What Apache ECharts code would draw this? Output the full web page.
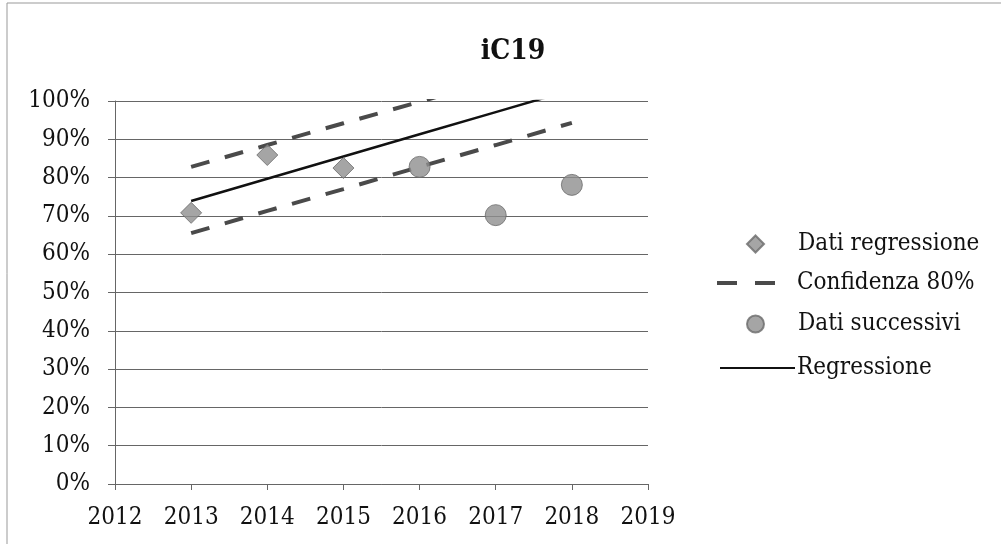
<!DOCTYPE html>
<html>
<head>
<meta charset="utf-8">
<script src="https://cdn.jsdelivr.net/npm/echarts@6/dist/echarts.min.js"></script>
<style>html,body{margin:0;padding:0;background:#fff}#c{width:1001px;height:544px}</style>
</head>
<body>
<div id="c"></div>
<script>
var titleText = 'iC19';
var yearsReg = [2013, 2014, 2015];
var datiRegressione = [70.8, 85.9, 82.5];
var yearsNext = [2016, 2017, 2018];
var datiSuccessivi = [82.8, 70.2, 78.1];
var yearsLine = [2013, 2014, 2015, 2016, 2017, 2018];
var regressione = [73.9, 79.7, 85.5, 91.3, 97.1, 102.9];
var confUpper = [82.8, 88.5, 94.2, 99.8, 105.5, 111.2];
var confLower = [65.5, 71.3, 77.0, 82.8, 88.5, 94.3];
var seriesNames = ['Dati regressione', 'Confidenza 80%', 'Dati successivi', 'Regressione'];

function pairs(xs, ys) { return xs.map(function (x, i) { return [x, ys[i]]; }); }

var FONT = "'DejaVu Serif Condensed', 'DejaVu Serif', serif";
var MARK = '#8f8f8f', MARKB = '#6a6a6a', DASH = '#4a4a4a';
function legendText(padLeft) {
  return { fontFamily: FONT, fontSize: 24, color: '#111', padding: [0, 0, 0, padLeft] };
}
var chart = echarts.init(document.getElementById('c'));
chart.setOption({
  animation: false,
  backgroundColor: '#fff',
  title: {
    text: titleText, left: 508, top: 33, textAlign: 'center',
    textStyle: { fontFamily: FONT, fontSize: 28, fontWeight: 'bold', color: '#111' }
  },
  grid: { left: 115, top: 101, width: 533, height: 383 },
  legend: [
    { orient: 'vertical', left: 746, top: 232, padding: 0, itemWidth: 17, itemHeight: 17,
      data: [{ name: seriesNames[0], icon: 'diamond' }], textStyle: legendText(29) },
    { orient: 'vertical', left: 717, top: 271, padding: 0, itemWidth: 58, itemHeight: 4,
      data: [{ name: seriesNames[1], icon: 'path://M0,0H20V4H0Z M38,0H58V4H38Z' }], textStyle: legendText(17) },
    { orient: 'vertical', left: 746, top: 312, padding: 0, itemWidth: 17, itemHeight: 17,
      data: [{ name: seriesNames[2], icon: 'circle' }], textStyle: legendText(29) },
    { orient: 'vertical', left: 720, top: 356, padding: 0, itemWidth: 75, itemHeight: 2,
      data: [{ name: seriesNames[3], icon: 'rect' }], textStyle: legendText(-3) }
  ],
  xAxis: {
    type: 'value', min: 2012, max: 2019, interval: 1,
    axisLine: { show: true, onZero: false, lineStyle: { color: '#666', width: 1 } },
    axisTick: { show: true, length: 6, lineStyle: { color: '#666' } },
    axisLabel: { margin: 22, fontFamily: FONT, fontSize: 24, color: '#111', formatter: function (v) { return String(v); } },
    splitLine: { show: false }
  },
  yAxis: {
    type: 'value', min: 0, max: 100, interval: 10,
    axisLine: { show: true, lineStyle: { color: '#666', width: 1 } },
    axisTick: { show: true, length: 7, lineStyle: { color: '#666' } },
    axisLabel: { margin: 25, fontFamily: FONT, fontSize: 24, color: '#111', formatter: '{value}%' },
    splitLine: { show: true, lineStyle: { color: '#666', width: 1 } }
  },
  series: [
    {
      name: seriesNames[0], type: 'scatter', symbol: 'diamond', symbolSize: 21,
      itemStyle: { color: MARK, borderColor: MARKB, borderWidth: 1 },
      data: pairs(yearsReg, datiRegressione), z: 5
    },
    {
      name: seriesNames[1], type: 'line', symbol: 'none', clip: true,
      lineStyle: { color: DASH, width: 4, type: [19, 16] },
      itemStyle: { color: DASH },
      data: pairs(yearsLine, confUpper)
    },
    {
      name: seriesNames[1], type: 'line', symbol: 'none', clip: true,
      lineStyle: { color: DASH, width: 4, type: [19, 16] },
      itemStyle: { color: DASH },
      data: pairs(yearsLine, confLower)
    },
    {
      name: seriesNames[2], type: 'scatter', symbol: 'circle', symbolSize: 21,
      itemStyle: { color: MARK, borderColor: MARKB, borderWidth: 1 },
      data: pairs(yearsNext, datiSuccessivi), z: 5
    },
    {
      name: seriesNames[3], type: 'line', symbol: 'none', clip: true,
      lineStyle: { color: '#111', width: 2.5 },
      itemStyle: { color: '#111' },
      data: pairs(yearsLine, regressione)
    }
  ],
  graphic: [
    { type: 'line', shape: { x1: 7, y1: 3, x2: 1001, y2: 3 }, style: { stroke: '#999', lineWidth: 1 } },
    { type: 'line', shape: { x1: 7, y1: 3, x2: 7, y2: 544 }, style: { stroke: '#999', lineWidth: 1 } }
  ]
});
</script>
</body>
</html>
